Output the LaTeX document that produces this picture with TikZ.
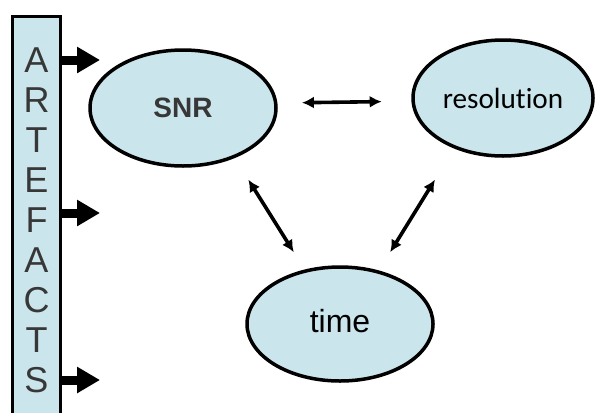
\documentclass[tikz,border=0pt]{standalone}
\usepackage{fontspec}
\setmainfont{Liberation Sans}
\newfontfamily\carlitofont[Ligatures=NoCommon]{Carlito}
\usetikzlibrary{arrows.meta,positioning,shapes.geometric}
\definecolor{artLightBlue}{RGB}{202,229,235}
\definecolor{artDarkGray}{RGB}{55,55,55}

\begin{document}
\begin{tikzpicture}[
  x=0.5pt, y=-0.5pt,
  blob/.style={
    ellipse,
    draw,
    line width=1.75pt,
    fill=artLightBlue,
    inner sep=0pt
  },
  letter/.style={
    text=artDarkGray,
    font=\fontsize{18}{18}\selectfont,
    inner sep=0pt
  },
  fatarrow/.style={-{Triangle[length=11.5pt,width=12.5pt]},line width=4.5pt},
  twoway/.style={{Latex[length=6pt,width=6pt]}-{Latex[length=6pt,width=6pt]},line width=1.8pt}
]
  \useasboundingbox (0,0) rectangle (597,412);
  % artefacts column
  \node[draw,line width=1.5pt,fill=artLightBlue,minimum width=24pt,
    minimum height=207pt,inner sep=0pt] (bar) at (36.5,223) {};
  \foreach \ch [count=\i] in {A,R,T,E,F,A,C,T,S}
    \node[letter] (art\i) at (36.5,20+40*\i) {\ch};
  \coordinate (hitA) at (100,60);
  \coordinate (hitB) at (100,213);
  \coordinate (hitC) at (100,380);
  \draw[fatarrow] (bar.east |- hitA) -- (hitA);
  \draw[fatarrow] (bar.east |- hitB) -- (hitB);
  \draw[fatarrow] (bar.east |- hitC) -- (hitC);
  % the three quantities
  \node[blob,minimum width=93pt,minimum height=58pt,text=artDarkGray,
    font=\bfseries\fontsize{14}{14}\selectfont] (snr) at (183,108) {SNR};
  \node[blob,minimum width=90pt,minimum height=58pt,
    font=\carlitofont\fontsize{14.6}{14.6}\selectfont] (resolution) at (503,98)
    {resolution};
  \node[blob,minimum width=93pt,minimum height=57pt,
    font=\fontsize{16}{16}\selectfont] (time) at (340,324) {\raisebox{3.5pt}{time}};
  \draw[twoway,shorten <=12.25pt,shorten >=14.85pt] (snr.3.6) -- (resolution.182.5);
  \draw[twoway,shorten <=12.75pt,shorten >=10.25pt] (snr.-44.4) -- (time.123.5);
  \draw[twoway,shorten <=18.25pt,shorten >=10.75pt] (resolution.226.3) -- (time.54.3);
\end{tikzpicture}
\end{document}
